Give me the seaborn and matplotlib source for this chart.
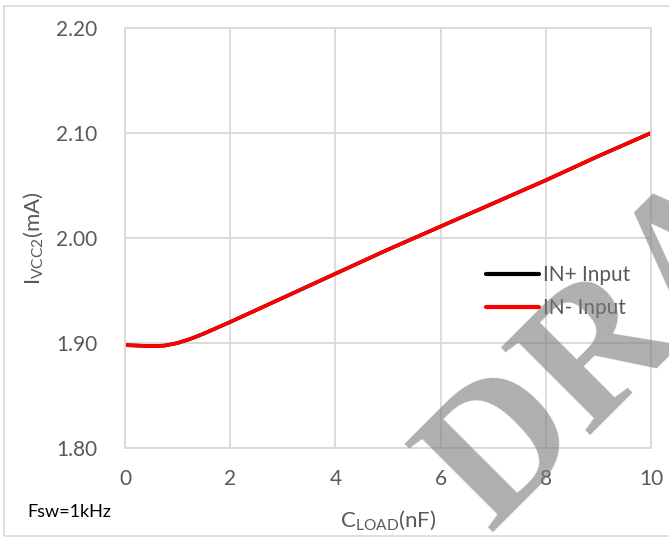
import matplotlib
matplotlib.use("Agg")
import matplotlib.pyplot as plt
import seaborn as sns
import pandas as pd
from matplotlib.patches import Rectangle

# ---- data ----
c_load = [0, 0.25, 0.5, 0.75, 1.0, 1.25, 1.5, 2, 3, 4, 5, 6, 7, 8, 9, 10]
i_in_plus = [1.898, 1.8975, 1.897, 1.8975, 1.900, 1.904, 1.909, 1.920, 1.943, 1.966, 1.989, 2.011, 2.033, 2.055, 2.078, 2.100]
i_in_minus = [1.898, 1.8975, 1.897, 1.8975, 1.900, 1.904, 1.909, 1.920, 1.943, 1.966, 1.989, 2.011, 2.033, 2.055, 2.078, 2.100]
series_names = ["IN+ Input", "IN- Input"]
x_ticks = [0, 2, 4, 6, 8, 10]
y_ticks = [1.80, 1.90, 2.00, 2.10, 2.20]

df = pd.DataFrame({
    "C": c_load + c_load,
    "I": i_in_plus + i_in_minus,
    "series": [series_names[0]] * len(c_load) + [series_names[1]] * len(c_load),
})

sns.set_theme(style="white")
plt.rcParams["font.family"] = ["Lato", "DejaVu Sans"]
plt.rcParams["mathtext.fontset"] = "custom"
plt.rcParams["mathtext.rm"] = "Lato"
plt.rcParams["mathtext.it"] = "Lato:italic"

fig = plt.figure(figsize=(6.69, 5.38), dpi=100)
ax = fig.add_axes([125 / 669, 1 - 448 / 538, (651 - 125) / 669, (448 - 28) / 538])

grid_c = "#d9d9d9"
txt_c = "#595959"

sns.lineplot(data=df, x="C", y="I", hue="series", hue_order=series_names,
             palette={"IN+ Input": "black", "IN- Input": "red"},
             linewidth=2.6, ax=ax, sort=False, legend=True)

ax.set_xlim(0, 10)
ax.set_ylim(1.80, 2.20)
ax.set_xticks(x_ticks)
ax.set_yticks(y_ticks)
ax.set_xticklabels([str(t) for t in x_ticks])
ax.set_yticklabels([f"{t:.2f}" for t in y_ticks])
ax.grid(True, color=grid_c, linewidth=1.3)
ax.set_axisbelow(True)
for s in ax.spines.values():
    s.set_color(grid_c)
    s.set_linewidth(1.3)
ax.tick_params(axis="both", length=0, labelsize=15, labelcolor=txt_c)
ax.tick_params(axis="y", pad=20)
ax.tick_params(axis="x", pad=15)

ax.set_xlabel(r"$\mathrm{C_{LOAD}}$(nF)", fontsize=16, color=txt_c, va="center")
ax.xaxis.set_label_coords(0.5, -0.171)
ax.set_ylabel(r"$\mathrm{I_{VCC2}}$(mA)", fontsize=16, color=txt_c, va="center")
ax.yaxis.set_label_coords(-0.175, 0.5)

leg = ax.legend(loc="upper left", bbox_to_anchor=(486 / 669, 1 - 265 / 538),
                bbox_transform=fig.transFigure, frameon=False, fontsize=15,
                handlelength=2.55, handletextpad=0.2, labelspacing=0.64,
                borderaxespad=0, borderpad=0)
for t in leg.get_texts():
    t.set_color(txt_c)
for l in leg.get_lines():
    l.set_linewidth(3.0)

fig.text(27 / 669, 1 - 512 / 538, "Fsw=1kHz", fontsize=13, color="black",
         ha="left", va="center")

fig.patches.append(Rectangle((4 / 669, 2 / 538), 1.0, 530 / 538, transform=fig.transFigure,
                             fill=False, edgecolor=grid_c, linewidth=1.2))

fig.text(490 / 669, 1 - 533 / 538, "DRAFT", rotation=45, rotation_mode="anchor",
         ha="left", va="baseline", fontsize=137, fontfamily="Liberation Serif",
         fontweight="bold", color="#7a7a7a", alpha=0.6, zorder=10)

fig.savefig("out.png", dpi=100)
